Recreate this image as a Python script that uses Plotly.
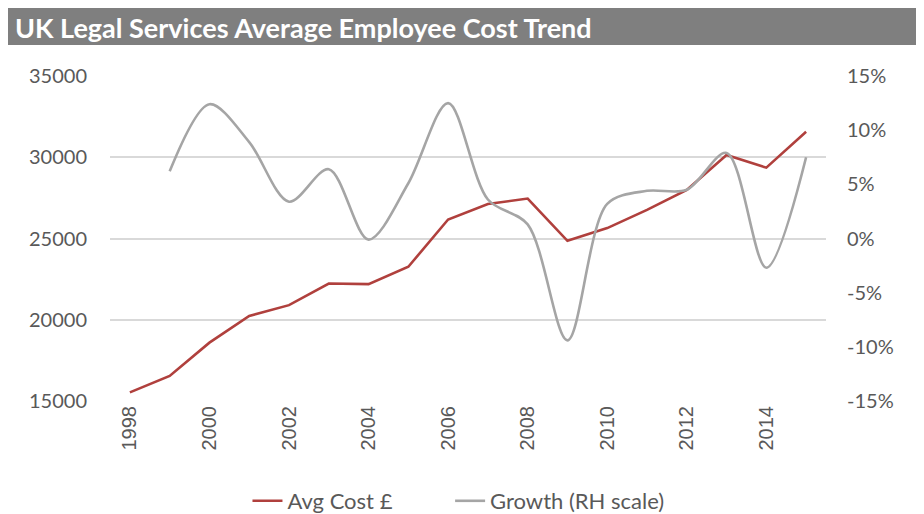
import plotly.graph_objects as go

years = list(range(1998, 2016))
avg_cost = [15530, 16540, 18590, 20230, 20900, 22230, 22190, 23260, 26170, 27120,
            27460, 24860, 25640, 26760, 27990, 30140, 29360, 31570]
growth_years = list(range(1999, 2016))
growth = [6.2, 12.4, 8.9, 3.4, 6.4, -0.1, 5.1, 12.5, 3.6, 1.3,
          -9.4, 3.2, 4.4, 4.5, 7.9, -2.7, 7.5]
pct_ticks = [-15, -10, -5, 0, 5, 10, 15]

axis_font = dict(family="Lato", size=20, color="#595959")
legend_font = dict(family="Lato", size=22, color="#595959")

fig = go.Figure()
fig.add_trace(go.Scatter(x=years, y=avg_cost, name="Avg Cost £", mode="lines",
                         line=dict(color="#B0403D", width=2.6), legend="legend"))
fig.add_trace(go.Scatter(x=growth_years, y=growth, name="Growth (RH scale)", mode="lines",
                         line=dict(color="#A5A5A5", width=2.6, shape="spline", smoothing=0.9),
                         yaxis="y2", legend="legend2"))

fig.update_layout(
    width=924, height=514,
    margin=dict(l=102, r=106, t=68, b=121, autoexpand=False),
    plot_bgcolor="white", paper_bgcolor="white",
    showlegend=True,
    legend=dict(orientation="h", x=0.192, xanchor="left", yref="container", y=-0.008, yanchor="bottom",
                font=legend_font),
    legend2=dict(orientation="h", x=0.475, xanchor="left", yref="container", y=-0.008, yanchor="bottom",
                 font=legend_font),
    xaxis=dict(range=[1997.5, 2015.5], tickmode="array", tickvals=years[::2],
               ticktext=[str(y) for y in years[::2]], tickangle=-90,
               tickfont=dict(family="Liberation Sans", size=20, color="#595959"),
               showgrid=False, showline=False, zeroline=False, ticks=""),
    yaxis=dict(range=[15000, 35000], dtick=5000, tickformat="d",
               tickfont=axis_font, showgrid=True, gridcolor="#D9D9D9", gridwidth=1.5,
               zeroline=False, showline=False, ticklabelstandoff=22),
    yaxis2=dict(range=[-15, 15], tickmode="array", tickvals=pct_ticks,
                ticktext=[f"{v}%" for v in pct_ticks], overlaying="y", side="right",
                tickfont=axis_font, showgrid=False, zeroline=False, showline=False,
                ticklabelstandoff=20),
)

# grey title bar
fig.add_shape(type="rect", xref="paper", yref="paper",
              x0=-0.1425, x1=1.1257, y0=1.0954, y1=1.209,
              fillcolor="#7F7F7F", line=dict(width=0), layer="below")
fig.add_annotation(text="<b>UK Legal Services Average Employee Cost Trend</b>",
                   xref="paper", yref="paper", x=-0.136, y=1.15, xanchor="left", yanchor="middle",
                   showarrow=False, font=dict(family="Lato", size=27, color="white"))

fig.write_html("out.html")
